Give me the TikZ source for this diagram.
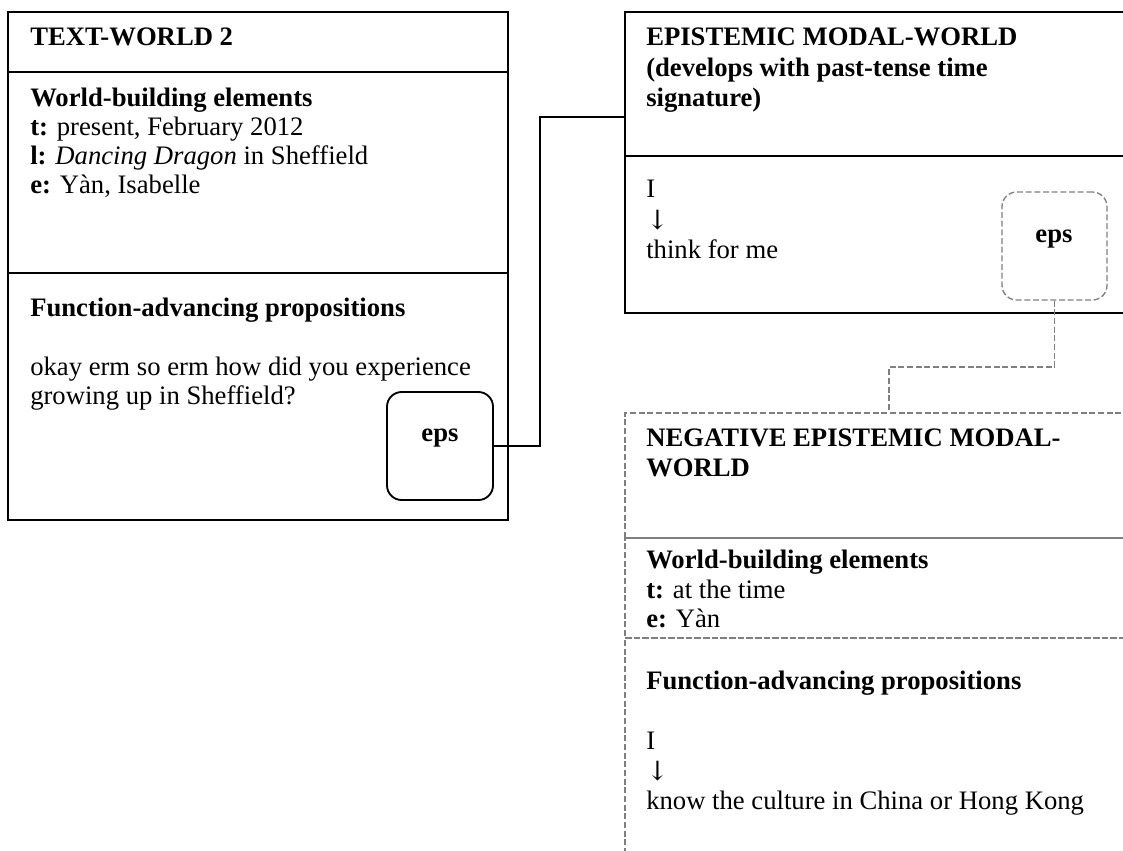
\documentclass[tikz,border=0pt]{standalone}
\usepackage{fontspec}
\setmainfont{Liberation Serif}
\newfontfamily\arrowfont{DejaVu Serif}
\usetikzlibrary{fit}
\definecolor{dashgray}{HTML}{7F7F7F}
\begin{document}
\begin{tikzpicture}[x=0.75pt,y=-0.75pt,
  lbl/.style={anchor=base west, inner sep=0pt, font=\fontsize{20}{23}\selectfont},
  ctr/.style={anchor=base, inner sep=0pt, font=\fontsize{20}{23}\selectfont\bfseries},
  arr/.style={anchor=base west, inner sep=0pt, font=\fontsize{20}{23}\selectfont\arrowfont},
  solidbox/.style={draw=black, line width=1.4pt, inner sep=0pt},
  dashbox/.style={draw=dashgray, line width=1pt, dash pattern=on 4.5pt off 2pt, inner sep=0pt},
  epsbox/.style={solidbox, rounded corners=11pt},
  depsbox/.style={dashbox, rounded corners=11pt},
  conn/.style={draw=black, line width=1.4pt},
  dconn/.style={draw=dashgray, line width=1pt, dash pattern=on 4.5pt off 2pt},
]
\useasboundingbox (0,0) rectangle (1123,850);
\clip (0,0) rectangle (1123,850);

% ---- Text-world 2 ----
\node[solidbox, fit={(8,12) (508,72)}] (twhead) {};
\node[solidbox, fit={(8,72) (508,273)}] (twwbe) {};
\node[solidbox, fit={(8,273) (508,520)}] (twfap) {};

\node[lbl] (twtitle) at (30,45) {\bfseries TEXT-WORLD 2};
\node[lbl] (twwbelbl) at (30,106) {\bfseries World-building elements};
\node[lbl] (twt) at (30,135) {{\bfseries t:} present, February 2012};
\node[lbl] (twl) at (30,164) {{\bfseries l:} \textit{Dancing Dragon} in Sheffield};
\node[lbl] (twe) at (30,193) {{\bfseries e:} Yàn, Isabelle};
\node[lbl] (twfaplbl) at (30,316) {\bfseries Function-advancing propositions};
\node[lbl] (twq1) at (30,375) {okay erm so erm how did you experience};
\node[lbl] (twq2) at (30,404) {growing up in Sheffield?};

\node[epsbox, fit={(387,392) (493,500)}] (eps1) {};
\node[ctr] (eps1lbl) at (440,441) {eps};

% ---- Epistemic modal-world ----
\node[solidbox, fit={(625,12) (1140,156)}] (emhead) {};
\node[solidbox, fit={(625,156) (1140,313)}] (embody) {};

\node[lbl] (emt1) at (646,45) {\bfseries EPISTEMIC MODAL-WORLD};
\node[lbl] (emt2) at (646,76) {\bfseries (develops with past-tense time};
\node[lbl] (emt3) at (646,106) {\bfseries signature)};
\node[lbl] (emi) at (646,197) {I};
\node[arr] (emarr) at (646,229) {↓};
\node[lbl] (emthink) at (646,258) {think for me};

\node[depsbox, fit={(1002,192) (1107,300)}] (eps2) {};
\node[ctr] (eps2lbl) at (1054,242) {eps};

% ---- Negative epistemic modal-world ----
\node[dashbox, fit={(625,413) (1140,538)}] (nghead) {};
\node[dashbox, fit={(625,538) (1140,638)}] (ngwbe) {};
\node[dashbox, fit={(625,638) (1140,880)}] (ngfap) {};

\node[lbl] (ngt1) at (646,446) {\bfseries NEGATIVE EPISTEMIC MODAL-};
\node[lbl] (ngt2) at (646,476) {\bfseries WORLD};
\node[lbl] (ngwbelbl) at (646,568) {\bfseries World-building elements};
\node[lbl] (ngt) at (646,598) {{\bfseries t:} at the time};
\node[lbl] (nge) at (646,627) {{\bfseries e:} Yàn};
\node[lbl] (ngfaplbl) at (646,689) {\bfseries Function-advancing propositions};
\node[lbl] (ngi) at (646,749) {I};
\node[arr] (ngarr) at (646,780) {↓};
\node[lbl] (ngknow) at (646,809) {know the culture in China or Hong Kong};

% ---- Connectors ----
\coordinate (bend1) at (540,117);
\draw[conn] (eps1.east) -| (bend1) -- (bend1 -| emhead.west);

\coordinate (bend2) at (889,367);
\draw[dconn] (eps2.south) |- (bend2) -- (bend2 |- nghead.north);
\end{tikzpicture}
\end{document}
